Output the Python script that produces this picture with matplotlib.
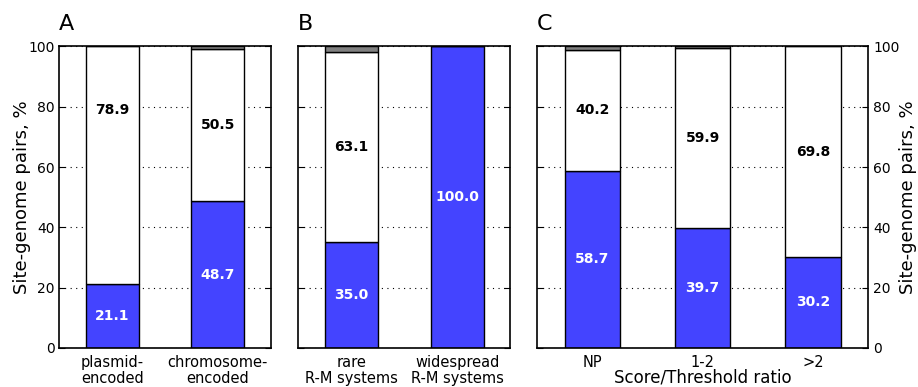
import matplotlib
matplotlib.use('Agg')
import matplotlib.pyplot as plt
import numpy as np

# panel A
a_labels = ['plasmid-\nencoded', 'chromosome-\nencoded']
a_blue = [21.1, 48.7]
a_white = [78.9, 50.5]
a_gray = [0.0, 0.8]

# panel B
b_labels = ['rare\nR-M systems', 'widespread\nR-M systems']
b_blue = [35.0, 100.0]
b_white = [63.1, 0.0]
b_gray = [1.9, 0.0]

# panel C
c_labels = ['NP', '1-2', '>2']
c_blue = [58.7, 39.7, 30.2]
c_white = [40.2, 59.9, 69.8]
c_gray = [1.1, 0.4, 0.0]

BLUE = '#4444ff'
GRAY = '#808080'

fig = plt.figure(figsize=(9.18, 3.87), dpi=100)
bot, h = 0.101, 0.779
axA = fig.add_axes([0.0646, bot, 0.2303, h])
axB = fig.add_axes([0.3249, bot, 0.2307, h])
axC = fig.add_axes([0.5850, bot, 0.3608, h])


def draw(ax, labels, blue, white, gray, letter):
    x = np.arange(len(labels))
    blue = np.array(blue)
    white = np.array(white)
    gray = np.array(gray)
    ax.bar(x, blue, 0.5, color=BLUE, edgecolor='black', linewidth=1.0, zorder=2)
    ax.bar(x, white, 0.5, bottom=blue, color='white', edgecolor='black', linewidth=1.0, zorder=2)
    ax.bar(x, gray, 0.5, bottom=blue + white, color=GRAY, edgecolor='black', linewidth=1.0, zorder=2)
    for i in range(len(x)):
        if blue[i] > 0:
            ax.text(x[i], blue[i] / 2, '%.1f' % blue[i], ha='center', va='center',
                    color='white', fontsize=10, fontweight='bold', zorder=3)
        if white[i] > 0:
            yy = blue[i] + white[i] / 2
            if letter == 'A' and i == 0:
                yy = white[i]  # label sits higher in the original
            ax.text(x[i], yy, '%.1f' % white[i], ha='center', va='center',
                    color='black', fontsize=10, fontweight='bold', zorder=3)
    ax.set_xlim(-0.5, len(labels) - 0.5)
    ax.set_ylim(0, 100)
    ax.set_yticks([0, 20, 40, 60, 80, 100])
    ax.set_xticks(x)
    ax.set_xticklabels(labels, fontsize=10.5, linespacing=1.1)
    ax.tick_params(axis='x', length=0, pad=5)
    ax.tick_params(axis='y', direction='in', length=4, left=True, right=True, labelsize=10)
    ax.yaxis.grid(True, linestyle=(0, (1, 4)), color='black', linewidth=0.8, zorder=0)
    ax.set_axisbelow(True)
    for s in ax.spines.values():
        s.set_linewidth(1.2)
    ax.text(0.0, 1.04, letter, transform=ax.transAxes, fontsize=16, ha='left', va='bottom')


draw(axA, a_labels, a_blue, a_white, a_gray, 'A')
draw(axB, b_labels, b_blue, b_white, b_gray, 'B')
draw(axC, c_labels, c_blue, c_white, c_gray, 'C')

axA.set_ylabel('Site-genome pairs, %', fontsize=13)
axA.yaxis.set_label_coords(-0.132, 0.5)
axB.set_yticklabels([])
axC.tick_params(axis='y', labelleft=False, labelright=True)
axC.yaxis.set_label_position('right')
axC.set_ylabel('Site-genome pairs, %', fontsize=13)
axC.yaxis.set_label_coords(1.093, 0.5)
axC.set_xlabel('Score/Threshold ratio', fontsize=12, labelpad=-1)

fig.savefig('out.png', dpi=100)
